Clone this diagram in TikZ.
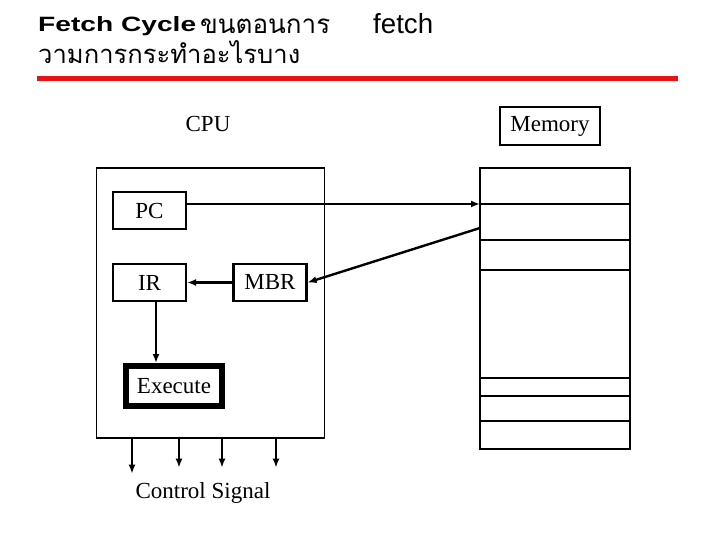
\documentclass[tikz,border=0pt]{standalone}
\usepackage{fontspec}
\setmainfont{Liberation Serif}
\setsansfont{Liberation Sans}
\newfontfamily\thaifont[Script=Thai]{Loma}
\usetikzlibrary{arrows.meta}
\definecolor{titlered}{RGB}{230,20,20}
\tikzset{
  lbl/.style={font=\fontsize{23}{27}\selectfont, inner sep=0pt},
  regbox/.style={draw, line width=2.2pt, inner sep=0pt, font=\fontsize{23}{27}\selectfont},
  arr/.style={line width=2.4pt, -{Latex[length=9pt,width=7pt]}},
  thin/.style={line width=1.3pt}
}
\begin{document}
\begin{tikzpicture}[x=1pt,y=-1pt]
\useasboundingbox (0,0) rectangle (720,540);
% title
\node[anchor=base west, inner sep=0pt] (t1) at (38,32) {\resizebox{158pt}{15pt}{\sffamily\bfseries Fetch Cycle}};
\node[anchor=base west, inner sep=0pt] (t2) at (200,34) {\resizebox{130pt}{!}{\thaifont ขนตอนการ}};
\node[anchor=base west, inner sep=0pt] (t3) at (373,34) {\resizebox{60pt}{!}{\sffamily fetch}};
\node[anchor=base west, inner sep=0pt] (t4) at (38,64) {\resizebox{262pt}{!}{\thaifont วามการกระทำอะไรบาง}};
\fill[titlered] (37,76) rectangle (678,81);
% labels
\node[lbl] (cpulbl) at (208,124) {CPU};
\node[draw, line width=2.2pt, minimum width=100, minimum height=38, lbl] (memlbl) at (550,126) {Memory};
% CPU box
\node[draw, thin, minimum width=228, minimum height=270, inner sep=0pt] (cpu) at (210.5,303) {};
\node[regbox, minimum width=73, minimum height=37] (pc) at (149.5,210.5) {PC};
\node[regbox, minimum width=73, minimum height=37] (ir) at (149.5,282.5) {IR};
\node[regbox, minimum width=73, minimum height=37] (mbr) at (270,282.5) {MBR};
\node[draw, line width=6pt, minimum width=96, minimum height=40, inner sep=0pt, font=\fontsize{23}{27}\selectfont] (ex) at (174,386) {Execute};
% memory
\node[draw, line width=2.8pt, minimum width=150, minimum height=281, inner sep=0pt] (mem) at (555,308.5) {};
\foreach \yy in {204,240,270,378,396,421}{
  \draw[thin] (mem.west |- 0,\yy) -- (mem.east |- 0,\yy);
}
\coordinate (row1) at (480,204);
\coordinate (src) at (480,228);
% connectors
\draw[arr] (pc.east |- row1) -- (row1);
\draw[arr] (src) -- (mbr.east);
\draw[arr] (mbr.west) -- (ir.east);
\draw[arr] ([xshift=6.5]ir.south) -- ([xshift=6.5]ir.south |- ex.north);
\draw[arr] ([xshift=-78.5]cpu.south) -- ++(0,35);
\draw[arr] ([xshift=-31.5]cpu.south) -- ++(0,29);
\draw[arr] ([xshift=11.5]cpu.south) -- ++(0,29);
\draw[arr] ([xshift=65.5]cpu.south) -- ++(0,29);
\node[lbl] (ctl) at (203,493) {Control Signal};
\end{tikzpicture}
\end{document}
